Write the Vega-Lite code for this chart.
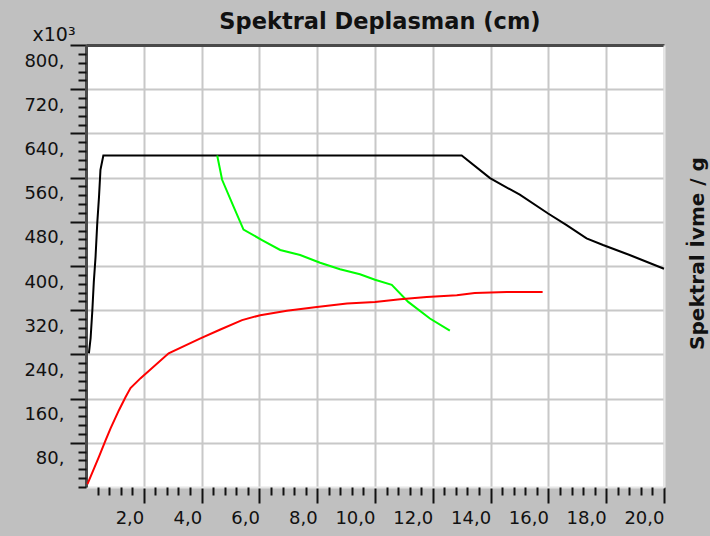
{
  "$schema": "https://vega.github.io/schema/vega-lite/v6.json",
  "width": 578,
  "height": 442,
  "autosize": {"type": "none"},
  "padding": {"left": 86, "top": 45, "right": 46, "bottom": 49},
  "background": "#c0c0c0",
  "config": {
    "view": {"fill": "#ffffff", "stroke": null},
    "axis": {
      "labelFont": "DejaVu Sans",
      "labelFontSize": 18,
      "labelColor": "#111111",
      "tickColor": "#111111",
      "tickWidth": 2,
      "gridColor": "#c8c8c8",
      "gridWidth": 2,
      "gridOpacity": 1
    }
  },
  "title": {
    "text": "Spektral Deplasman (cm)",
    "anchor": "middle",
    "frame": "group",
    "font": "DejaVu Sans",
    "fontSize": 22.5,
    "fontWeight": "bold",
    "color": "#111111",
    "baseline": "bottom",
    "offset": 0,
    "dx": 5,
    "dy": 31
  },
  "data": {
    "values": [
      {"s": "k", "x": 0.10, "y": 242},
      {"s": "k", "x": 0.16, "y": 270},
      {"s": "k", "x": 0.22, "y": 320},
      {"s": "k", "x": 0.27, "y": 371},
      {"s": "k", "x": 0.33, "y": 416},
      {"s": "k", "x": 0.39, "y": 478},
      {"s": "k", "x": 0.45, "y": 525},
      {"s": "k", "x": 0.50, "y": 574},
      {"s": "k", "x": 0.60, "y": 600},
      {"s": "k", "x": 13.0, "y": 600},
      {"s": "k", "x": 13.98, "y": 559},
      {"s": "k", "x": 15.01, "y": 529},
      {"s": "k", "x": 15.99, "y": 495},
      {"s": "k", "x": 16.63, "y": 474},
      {"s": "k", "x": 17.32, "y": 450},
      {"s": "k", "x": 17.89, "y": 438},
      {"s": "k", "x": 18.81, "y": 420},
      {"s": "k", "x": 20.0, "y": 395},
      {"s": "g", "x": 4.54, "y": 600},
      {"s": "g", "x": 4.71, "y": 556},
      {"s": "g", "x": 5.11, "y": 507},
      {"s": "g", "x": 5.45, "y": 466},
      {"s": "g", "x": 6.09, "y": 447},
      {"s": "g", "x": 6.72, "y": 429},
      {"s": "g", "x": 7.41, "y": 420},
      {"s": "g", "x": 8.10, "y": 406},
      {"s": "g", "x": 8.79, "y": 394},
      {"s": "g", "x": 9.48, "y": 385},
      {"s": "g", "x": 10.0, "y": 375},
      {"s": "g", "x": 10.58, "y": 366},
      {"s": "g", "x": 11.15, "y": 335},
      {"s": "g", "x": 11.9, "y": 305},
      {"s": "g", "x": 12.59, "y": 283},
      {"s": "r", "x": 0.05, "y": 5},
      {"s": "r", "x": 0.45, "y": 55},
      {"s": "r", "x": 0.68, "y": 85},
      {"s": "r", "x": 0.85, "y": 106},
      {"s": "r", "x": 1.14, "y": 139},
      {"s": "r", "x": 1.37, "y": 163},
      {"s": "r", "x": 1.54, "y": 179},
      {"s": "r", "x": 1.89, "y": 197},
      {"s": "r", "x": 2.86, "y": 242},
      {"s": "r", "x": 3.96, "y": 269},
      {"s": "r", "x": 4.65, "y": 285},
      {"s": "r", "x": 5.4, "y": 302},
      {"s": "r", "x": 6.03, "y": 311},
      {"s": "r", "x": 6.95, "y": 319},
      {"s": "r", "x": 7.99, "y": 326},
      {"s": "r", "x": 9.03, "y": 332},
      {"s": "r", "x": 10.0, "y": 335},
      {"s": "r", "x": 10.87, "y": 340},
      {"s": "r", "x": 11.79, "y": 344},
      {"s": "r", "x": 12.83, "y": 347},
      {"s": "r", "x": 13.45, "y": 351},
      {"s": "r", "x": 14.56, "y": 353},
      {"s": "r", "x": 15.8, "y": 353}
    ]
  },
  "layer": [
    {
      "mark": {"type": "line", "strokeWidth": 2, "interpolate": "linear"},
      "encoding": {
        "x": {
          "field": "x", "type": "quantitative",
          "scale": {"domain": [0, 20], "nice": false, "zero": false},
          "axis": {
            "orient": "bottom",
            "title": null,
            "values": [2, 4, 6, 8, 10, 12, 14, 16, 18, 20],
            "labelExpr": "replace(format(datum.value, '.1f'), '.', ',')",
            "labelAlign": "right",
            "labelBaseline": "top",
            "labelPadding": 6,
            "tickSize": 16,
            "grid": true,
            "domain": true,
            "domainColor": "#e6e6e6",
            "domainWidth": 2,
            "labelFlush": false,
            "labelOverlap": false
          }
        },
        "y": {
          "field": "y", "type": "quantitative",
          "scale": {"domain": [0, 800], "nice": false, "zero": true},
          "axis": {
            "orient": "left",
            "values": [80, 160, 240, 320, 400, 480, 560, 640, 720, 800],
            "labelExpr": "datum.value + ','",
            "labelOffset": 16,
            "labelPadding": 6,
            "tickSize": 16,
            "grid": true,
            "domain": true,
            "domainColor": "#4a4a4a",
            "domainWidth": 3,
            "labelFlush": false,
            "labelOverlap": false,
            "title": "x10³",
            "titleAngle": 0,
            "titleX": -54,
            "titleY": -5,
            "titleAlign": "left",
            "titleBaseline": "alphabetic",
            "titleFont": "DejaVu Sans",
            "titleFontSize": 19,
            "titleFontWeight": "normal",
            "titleColor": "#111111"
          }
        },
        "color": {
          "field": "s", "type": "nominal",
          "scale": {"domain": ["k", "g", "r"], "range": ["#000000", "#00ff00", "#ff0000"]},
          "legend": null
        }
      }
    },
    {
      "mark": {"type": "line", "strokeOpacity": 0},
      "encoding": {
        "x": {
          "field": "x", "type": "quantitative",
          "axis": {
            "orient": "bottom",
            "title": null,
            "values": [0.4, 0.8, 1.2, 1.6, 2.4, 2.8, 3.2, 3.6, 4.4, 4.8, 5.2, 5.6, 6.4, 6.8, 7.2, 7.6, 8.4, 8.8, 9.2, 9.6, 10.4, 10.8, 11.2, 11.6, 12.4, 12.8, 13.2, 13.6, 14.4, 14.8, 15.2, 15.6, 16.4, 16.8, 17.2, 17.6, 18.4, 18.8, 19.2, 19.6],
            "labels": false,
            "grid": false,
            "domain": false,
            "tickSize": 8
          }
        },
        "y": {
          "field": "y", "type": "quantitative",
          "axis": {
            "orient": "left",
            "title": null,
            "values": [0, 16, 32, 48, 64, 96, 112, 128, 144, 176, 192, 208, 224, 256, 272, 288, 304, 336, 352, 368, 384, 416, 432, 448, 464, 496, 512, 528, 544, 576, 592, 608, 624, 656, 672, 688, 704, 736, 752, 768, 784],
            "labels": false,
            "grid": false,
            "domain": false,
            "tickSize": 8
          }
        },
        "detail": {"field": "s", "type": "nominal"}
      }
    },
    {
      "mark": {"type": "line", "strokeOpacity": 0},
      "encoding": {
        "x": {
          "field": "x", "type": "quantitative",
          "axis": {
            "orient": "top",
            "title": null,
            "labels": false,
            "ticks": false,
            "grid": false,
            "domain": true,
            "domainColor": "#4a4a4a",
            "domainWidth": 3
          }
        },
        "y": {
          "field": "y", "type": "quantitative",
          "axis": {
            "orient": "right",
            "labels": false,
            "ticks": false,
            "grid": false,
            "domain": true,
            "domainColor": "#e6e6e6",
            "domainWidth": 2,
            "title": "Spektral İvme / g",
            "titleAngle": 270,
            "titleX": 33,
            "titleY": 208,
            "titleAlign": "center",
            "titleBaseline": "middle",
            "titleFont": "DejaVu Sans",
            "titleFontSize": 20,
            "titleFontWeight": "bold",
            "titleColor": "#111111"
          }
        },
        "detail": {"field": "s", "type": "nominal"}
      }
    }
  ],
  "resolve": {"axis": {"x": "independent", "y": "independent"}}
}
